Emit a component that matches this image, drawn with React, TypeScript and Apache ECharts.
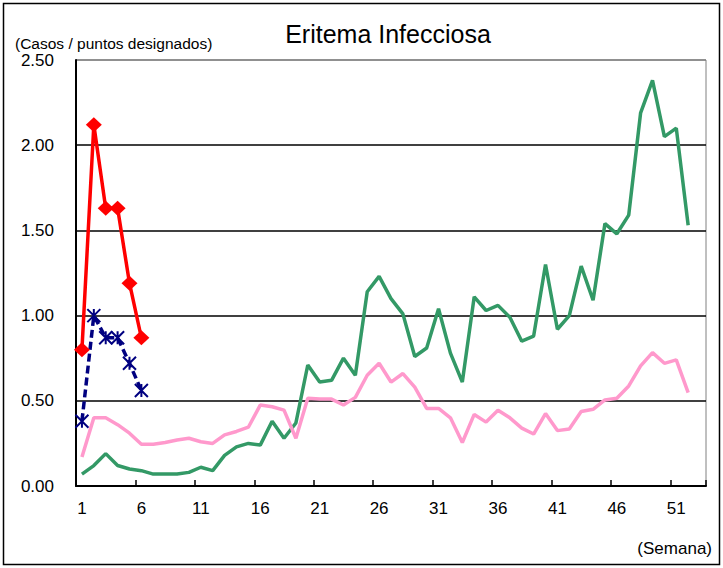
import React, { useEffect, useRef } from "react";
import * as echarts from "echarts";

const weeks: string[] = Array.from({ length: 53 }, (_, i) => String(i + 1));

const greenSeries: number[] = [
  0.07, 0.12, 0.19, 0.12, 0.1, 0.09, 0.07, 0.07, 0.07, 0.08,
  0.11, 0.09, 0.18, 0.23, 0.25, 0.24, 0.38, 0.28, 0.37, 0.71,
  0.61, 0.62, 0.75, 0.65, 1.14, 1.23, 1.1, 1.01, 0.76, 0.81,
  1.04, 0.78, 0.61, 1.11, 1.03, 1.06, 0.99, 0.85, 0.88, 1.3,
  0.92, 1.0, 1.29, 1.09, 1.54, 1.48, 1.59, 2.19, 2.38, 2.05,
  2.1, 1.53,
];

const pinkSeries: number[] = [
  0.17, 0.4, 0.4, 0.36, 0.31, 0.245, 0.245, 0.255, 0.27, 0.28,
  0.26, 0.25, 0.3, 0.32, 0.345, 0.475, 0.465, 0.445, 0.28, 0.515,
  0.51, 0.51, 0.475, 0.52, 0.65, 0.72, 0.61, 0.66, 0.58, 0.455,
  0.455, 0.4, 0.255, 0.42, 0.375, 0.445, 0.4, 0.34, 0.305, 0.425,
  0.325, 0.335, 0.437, 0.45, 0.505, 0.515, 0.587, 0.705, 0.783, 0.72,
  0.74, 0.548,
];

const redSeries: number[] = [0.8, 2.12, 1.63, 1.63, 1.19, 0.87];
const blueSeries: number[] = [0.38, 1.0, 0.87, 0.87, 0.72, 0.56];

const titleText = "Eritema Infecciosa";
const yUnitText = "(Casos / puntos designados)";
const xUnitText = "(Semana)";

const FONT = "'Liberation Sans', Arial, sans-serif";

export default function App() {
  const ref = useRef<HTMLDivElement>(null);

  useEffect(() => {
    if (!ref.current) return;
    const chart = echarts.init(ref.current, null, { renderer: "svg" });
    chart.setOption({
      animation: false,
      backgroundColor: "#ffffff",
      grid: {
        left: 76,
        right: 17,
        top: 60,
        bottom: 82,
        show: true,
        borderColor: "#808080",
        borderWidth: 1,
      },
      xAxis: {
        type: "category",
        data: weeks,
        boundaryGap: true,
        axisLine: { show: true, lineStyle: { color: "#000", width: 2 } },
        axisTick: {
          show: true,
          inside: true,
          length: 6,
          interval: 4,
          alignWithLabel: false,
          lineStyle: { color: "#000", width: 1.5 },
        },
        axisLabel: {
          interval: 4,
          color: "#000",
          fontSize: 17,
          fontFamily: FONT,
          margin: 14,
        },
        splitLine: { show: false },
      },
      yAxis: {
        type: "value",
        min: 0,
        max: 2.5,
        interval: 0.5,
        axisLine: { show: true, lineStyle: { color: "#000", width: 2 } },
        axisTick: { show: false },
        axisLabel: {
          color: "#000",
          fontSize: 17,
          fontFamily: FONT,
          margin: 22,
          formatter: (v: number) => v.toFixed(2),
        },
        splitLine: {
          show: true,
          lineStyle: {
            color: ["#000", "#000", "#000", "#000", "#000", "#808080"],
            width: 1.5,
          },
        },
      },
      series: [
        {
          name: "green",
          type: "line",
          data: greenSeries,
          symbol: "none",
          lineStyle: { color: "#339966", width: 3.5 },
          itemStyle: { color: "#339966" },
          z: 2,
        },
        {
          name: "pink",
          type: "line",
          data: pinkSeries,
          symbol: "none",
          lineStyle: { color: "#FF99CC", width: 3.5 },
          itemStyle: { color: "#FF99CC" },
          z: 2,
        },
        {
          name: "blue",
          type: "line",
          data: blueSeries,
          symbol: "path://M0,0L10,10M10,0L0,10M5,0L5,10",
          symbolSize: 13,
          showSymbol: true,
          showAllSymbol: true,
          lineStyle: { color: "#000080", width: 3.5, type: [8, 4] },
          itemStyle: { color: "#000080", borderColor: "#000080", borderWidth: 2 },
          z: 4,
        },
        {
          name: "red",
          type: "line",
          data: redSeries,
          symbol: "diamond",
          symbolSize: [16, 15],
          showSymbol: true,
          showAllSymbol: true,
          lineStyle: { color: "#FF0000", width: 3.5 },
          itemStyle: { color: "#FF0000" },
          z: 5,
        },
      ],
      graphic: [
        {
          type: "rect",
          shape: { x: 3.5, y: 3.5, width: 716, height: 561 },
          style: { fill: "none", stroke: "#000", lineWidth: 1.5 },
          silent: true,
          z: 0,
        },
        {
          type: "text",
          x: 388,
          y: 34,
          style: {
            text: titleText,
            fill: "#000",
            font: `25px ${FONT}`,
            textAlign: "center",
            textVerticalAlign: "middle",
          },
        },
        {
          type: "text",
          x: 15,
          y: 43,
          style: {
            text: yUnitText,
            fill: "#000",
            font: `15.5px ${FONT}`,
            textAlign: "left",
            textVerticalAlign: "middle",
          },
        },
        {
          type: "text",
          x: 712,
          y: 548,
          style: {
            text: xUnitText,
            fill: "#000",
            font: `17px ${FONT}`,
            textAlign: "right",
            textVerticalAlign: "middle",
          },
        },
      ],
    });
    return () => chart.dispose();
  }, []);

  return (
    <div
      ref={ref}
      style={{ position: "fixed", left: 0, top: 0, width: 723, height: 568 }}
    />
  );
}
